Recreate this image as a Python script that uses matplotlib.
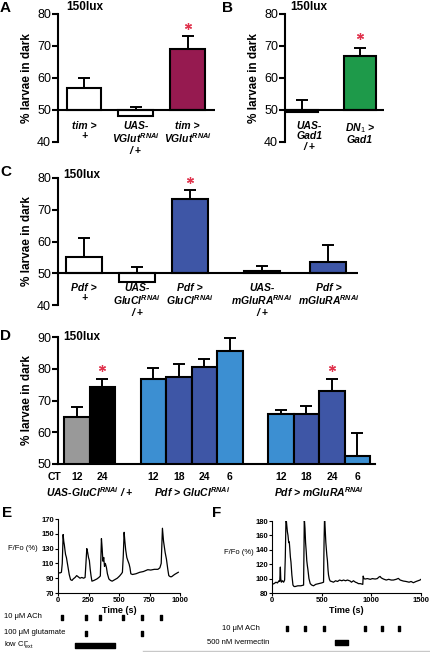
import numpy as np
import matplotlib
matplotlib.use('Agg')
import matplotlib.pyplot as plt
from matplotlib.transforms import blended_transform_factory
from matplotlib.lines import Line2D

W, H = 431, 652

plt.rcParams['font.family'] = ['Liberation Sans', 'DejaVu Sans']
plt.rcParams['mathtext.fontset'] = 'custom'
plt.rcParams['mathtext.rm'] = 'Liberation Sans'
plt.rcParams['mathtext.it'] = 'Liberation Sans:italic:bold'
plt.rcParams['mathtext.bf'] = 'Liberation Sans:bold'

# ---- data ----
a_labels = ['tim >\n+', 'UAS-\nVGlut$^{RNAi}$\n/ +', 'tim >\nVGlut$^{RNAi}$']
a_means = [56.8, 48.1, 69.2]
a_sem = [3.3, 2.9, 3.9]

b_labels = ['UAS-\nGad1\n/ +', 'DN$_{\\mathit{1}}$ >\nGad1']
b_means = [49.3, 66.8]
b_sem = [3.8, 2.7]

c_labels = ['Pdf >\n+', 'UAS-\nGluCl$^{RNAi}$\n/ +', 'Pdf >\nGluCl$^{RNAi}$',
            'UAS-\nmGluRA$^{RNAi}$\n/ +', 'Pdf >\nmGluRA$^{RNAi}$']
c_means = [55.0, 47.3, 73.4, 50.7, 53.5]
c_sem = [6.0, 4.7, 2.7, 1.7, 5.3]

d_ct = ['12', '24', '12', '18', '24', '6', '12', '18', '24', '6']
d_means = [64.7, 74.4, 76.8, 77.4, 80.7, 85.5, 65.6, 65.7, 73.0, 52.6]
d_sem = [3.25, 2.4, 3.5, 4.0, 2.3, 4.2, 1.5, 2.7, 3.7, 7.1]
d_groups = ['UAS-GluCl$^{RNAi}$ / +', 'Pdf > GluCl$^{RNAi}$', 'Pdf > mGluRA$^{RNAi}$']

e_trace = [(0, 98), (15, 97), (28, 98), (35, 110), (42, 149), (47, 140), (52, 135), (57, 128),
           (62, 122), (69, 118), (76, 111), (83, 104), (92, 95), (103, 88), (115, 87), (125, 89),
           (140, 91), (153, 93.5), (165, 92), (180, 90), (195, 91), (210, 90), (222, 91),
           (229, 110), (236, 130), (243, 125), (250, 118), (257, 114), (264, 102), (271, 93),
           (278, 86), (295, 87), (319, 89), (335, 91), (347, 93), (352, 120), (356, 143.5),
           (362, 130), (368, 113), (375, 118), (381, 106), (388, 110), (397, 104.5), (405, 96),
           (417, 89), (430, 87), (444, 86), (465, 88), (486, 90), (505, 93), (520, 96), (528, 98),
           (535, 120), (542, 152), (548, 140), (555, 128), (564, 118), (572, 114), (583, 109),
           (590, 104), (597, 96), (610, 95), (639, 96), (670, 98), (700, 99), (736, 101.5),
           (760, 101), (790, 102), (819, 102), (835, 104), (846, 110), (856, 157.5), (865, 140),
           (878, 125), (889, 115.6), (900, 102), (908, 93.5), (920, 92), (931, 92), (955, 95),
           (986, 98)]

f_trace = [(0, 92), (20, 93), (40, 95), (55, 94), (70, 97), (78, 96), (84, 116), (88, 100),
           (94, 95), (105, 97), (117, 95), (127, 98), (134, 130), (141, 185.5), (148, 175),
           (155, 165), (161, 160), (168, 150), (174, 151), (180, 140), (185, 130), (191, 123),
           (200, 105), (211, 91), (222, 89), (234, 89), (260, 90), (290, 90), (318, 91),
           (322, 140), (325, 184), (332, 170), (338, 150), (345, 137), (350, 125), (356, 118),
           (362, 112), (372, 100), (385, 93), (400, 91), (418, 90), (440, 92), (470, 93),
           (500, 94), (519, 95), (524, 150), (529, 185.5), (535, 170), (542, 150), (552, 132.5),
           (558, 125), (564, 112), (569, 105), (578, 99), (586, 96.6), (600, 96), (619, 95),
           (640, 97), (660, 96), (680, 98), (703, 97), (720, 98), (740, 97), (760, 98),
           (787, 96.6), (800, 95), (820, 97), (840, 95), (854, 94.3), (870, 93), (890, 93),
           (914, 92), (918, 103.5), (925, 100), (937, 99.4), (960, 100), (990, 99), (1010, 100),
           (1038, 99.4), (1060, 100), (1075, 102), (1088, 103), (1100, 101), (1122, 99.4),
           (1150, 98), (1175, 99), (1200, 98), (1222, 98), (1250, 99), (1272, 100.3), (1290, 98),
           (1322, 96.6), (1350, 96), (1380, 95), (1400, 96), (1423, 94.3), (1450, 96), (1470, 97),
           (1490, 98), (1500, 99)]

e_ach = [35, 228, 342, 534, 690, 847]
e_glut = [228, 690]
e_lowcl = (140, 468)
f_ach = [151, 335, 526, 936, 1107, 1280]
f_iverm = (634, 765)

maroon = '#961a50'
green = '#1e9a4a'
blue = '#3e56a6'
lblue = '#3c8fd2'
star_red = '#e0344e'

fig = plt.figure(figsize=(W / 100, H / 100), dpi=100)


def add_ax(l, t, r, b):
    return fig.add_axes([l / W, 1 - b / H, (r - l) / W, (b - t) / H])


def ftext(x, y, s, **kw):
    fig.text(x / W, 1 - y / H, s, **kw)


def style_bar_ax(ax, ylim, yticks):
    ax.set_ylim(*ylim)
    ax.set_yticks(yticks)
    ax.set_xticks([])
    for s in ['top', 'right', 'bottom']:
        ax.spines[s].set_visible(False)
    ax.spines['left'].set_linewidth(1.5)
    ax.tick_params(axis='y', length=4, width=1.5, labelsize=9, pad=1)
    ax.patch.set_alpha(0)


def draw_bars(ax, pos, means, sem, colors, width, base):
    means = np.array(means)
    ax.bar(pos, means - base, bottom=base, width=width, color=colors,
           edgecolor='black', linewidth=1.5, zorder=3)
    ax.errorbar(pos, means, yerr=[np.zeros(len(sem)), sem], fmt='none', ecolor='black',
                elinewidth=1.4, capsize=4.5, capthick=1.4, zorder=2)


def star(ax, x, y):
    ax.plot([x], [y], marker=(6, 2, 0), ms=5, mew=0.9, color=star_red, zorder=5, clip_on=False)


def cat_labels(ax, pos, labels, ypx, size=7.5):
    tr = blended_transform_factory(ax.transData, fig.transFigure)
    for p, lab in zip(pos, labels):
        ax.text(p, 1 - ypx / H, lab, transform=tr, ha='center', va='top', fontsize=size,
                fontstyle='italic', fontweight='bold', linespacing=1.05)


# ---- panel A ----
axA = add_ax(58, 14, 215, 142)
style_bar_ax(axA, (40, 80), [40, 50, 60, 70, 80])
axA.set_xlim(-0.5, 2.53)
posA = np.arange(3)
draw_bars(axA, posA, a_means, a_sem, ['white', 'white', maroon], 0.67, 50)
axA.axhline(50, color='black', lw=1.5, zorder=4)
star(axA, 2, 76.3)
cat_labels(axA, posA, a_labels, 121)
axA.set_ylabel('% larvae in dark', fontsize=8.5, fontweight='bold', labelpad=3)

# ---- panel B ----
axB = add_ax(285, 14, 384, 142)
style_bar_ax(axB, (40, 80), [40, 50, 60, 70, 80])
axB.set_xlim(-0.293, 1.414)
posB = np.arange(2)
draw_bars(axB, posB, b_means, b_sem, ['white', green], 0.55, 50)
axB.axhline(50, color='black', lw=1.5, zorder=4)
star(axB, 1, 73.1)
cat_labels(axB, [0.13, 1.0], b_labels, 121)
axB.set_ylabel('% larvae in dark', fontsize=8.5, fontweight='bold', labelpad=3)

# ---- panel C ----
axC = add_ax(58, 178, 358, 305)
style_bar_ax(axC, (40, 80), [40, 50, 60, 70, 80])
axC.set_xlim(-0.49, 5.17)
posC = np.array([0, 1, 2, 3.36, 4.61])
draw_bars(axC, posC, c_means, c_sem, ['white', 'white', blue, 'white', blue], 0.68, 50)
axC.axhline(50, color='black', lw=1.5, zorder=4)
star(axC, 2, 79.5)
cat_labels(axC, posC, c_labels, 283)
axC.set_ylabel('% larvae in dark', fontsize=8.5, fontweight='bold', labelpad=3)

# ---- panel D ----
axD = add_ax(58, 337, 375, 464)
style_bar_ax(axD, (50, 90), [50, 60, 70, 80, 90])
axD.spines['bottom'].set_visible(True)
axD.spines['bottom'].set_linewidth(1.5)
axD.set_xlim(-0.745, 11.69)
posD = np.array([0, 1, 3, 4, 5, 6, 8, 9, 10, 11])
d_colors = ['#999999', 'black', lblue, blue, blue, lblue, lblue, blue, blue, lblue]
draw_bars(axD, posD, d_means, d_sem, d_colors, 1.0, 50)
star(axD, 1, 80.2)
star(axD, 10, 80.2)
axD.set_ylabel('% larvae in dark', fontsize=8.5, fontweight='bold', labelpad=3)
trD = blended_transform_factory(axD.transData, fig.transFigure)
for p, ct in zip(posD, d_ct):
    axD.text(p, 1 - 477 / H, ct, transform=trD, ha='center', va='center',
             fontsize=7.5, fontweight='bold')
ftext(55, 477, 'CT', ha='center', va='center', fontsize=7.5, fontweight='bold')
for gpos, lab in zip([0.5, 4.5, 9.5], d_groups):
    axD.text(gpos, 1 - 492 / H, lab, transform=trD, ha='center', va='center',
             fontsize=7.5, fontstyle='italic', fontweight='bold')

# ---- panel letters / lux ----
for x, y, s in [(0, 8, 'A'), (222, 8, 'B'), (0, 172, 'C'), (0, 336, 'D'), (2, 513, 'E'), (212, 513, 'F')]:
    ftext(x, y, s, ha='left', va='center', fontsize=11, fontweight='bold')
for x, y in [(66, 7), (290, 7), (63, 175), (63, 337)]:
    ftext(x, y, '150lux', ha='left', va='center', fontsize=8.5, fontweight='bold')


# ---- traces ----
def style_trace_ax(ax):
    for s in ['top', 'right']:
        ax.spines[s].set_visible(False)
    for s in ['left', 'bottom']:
        ax.spines[s].set_linewidth(0.8)
    ax.tick_params(length=2, width=0.8, labelsize=5.5, pad=1)
    for lab in ax.get_xticklabels() + ax.get_yticklabels():
        lab.set_fontweight('bold')
    ax.patch.set_alpha(0)


axE = add_ax(58, 519, 180, 593)
et, ev = zip(*e_trace)
axE.plot(et, ev, color='black', lw=0.9)
axE.set_xlim(0, 1000)
axE.set_ylim(70, 170)
axE.set_xticks([0, 250, 500, 750, 1000])
axE.set_yticks([70, 90, 110, 130, 150, 170])
style_trace_ax(axE)
axE.set_xlabel('Time (s)', fontsize=6.5, fontweight='bold', labelpad=1)
ftext(8, 549, 'F/Fo (%)', ha='left', va='center', fontsize=5.5)

axF = add_ax(272, 521, 421, 593)
ft, fv = zip(*f_trace)
axF.plot(ft, fv, color='black', lw=0.9)
axF.set_xlim(0, 1500)
axF.set_ylim(80, 180)
axF.set_xticks([0, 500, 1000, 1500])
axF.set_yticks([80, 100, 120, 140, 160, 180])
style_trace_ax(axF)
axF.set_xlabel('Time (s)', fontsize=6.5, fontweight='bold', labelpad=1)
ftext(254, 552, 'F/Fo (%)', ha='right', va='center', fontsize=5.5)

# ---- stimulus rows ----
evE = add_ax(58, 605, 180, 652)
evE.set_xlim(0, 1000)
evE.set_ylim(652, 605)
evE.axis('off')
evE.broken_barh([(t - 8, 16) for t in e_ach], (614.5, 5), color='black')
evE.broken_barh([(t - 8, 16) for t in e_glut], (630.5, 5), color='black')
evE.broken_barh([(e_lowcl[0], e_lowcl[1] - e_lowcl[0])], (642.5, 5), color='black')
ftext(4, 617, '10 μM ACh', ha='left', va='center', fontsize=5.5)
ftext(4, 633, '100 μM glutamate', ha='left', va='center', fontsize=5.5)
ftext(4, 645, 'low Cl$\\mathrm{^{-}_{ext}}$', ha='left', va='center', fontsize=5.5)

evF = add_ax(272, 605, 421, 652)
evF.set_xlim(0, 1500)
evF.set_ylim(652, 605)
evF.axis('off')
evF.broken_barh([(t - 12, 24) for t in f_ach], (625.5, 5), color='black')
evF.broken_barh([(f_iverm[0], f_iverm[1] - f_iverm[0])], (639.5, 5), color='black')
ftext(260, 628, '10 μM ACh', ha='right', va='center', fontsize=5.5)
ftext(269, 642, '500 nM ivermectin', ha='right', va='center', fontsize=5.5)

fig.add_artist(Line2D([143 / W, 1], [1 - 650.5 / H] * 2, color='#c8c8c8', lw=1))

fig.savefig('out.png', dpi=100)
